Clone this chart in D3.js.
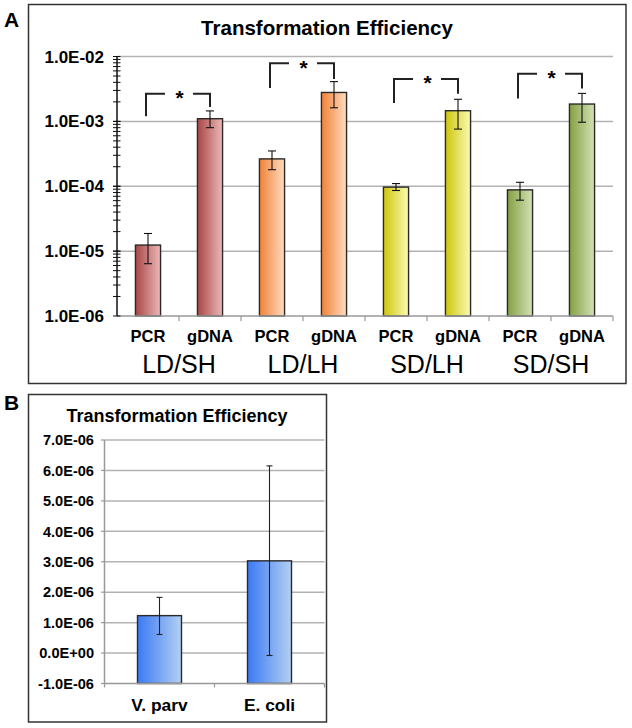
<!DOCTYPE html>
<html>
<head>
<meta charset="utf-8">
<script src="https://cdn.jsdelivr.net/npm/d3@7"></script>
<style>
  html, body { margin: 0; padding: 0; background: #fff; }
  svg { display: block; font-family: "Liberation Sans", Arial, Helvetica, sans-serif; }
</style>
</head>
<body>
<svg id="chart" width="632" height="728"></svg>
<script>
// ---------- Panel A data ----------
const groups = ["LD/SH", "LD/LH", "SD/LH", "SD/SH"];
const types = ["PCR", "gDNA"];
const pcrMean  = [1.24e-5, 2.64e-4, 9.7e-5, 8.8e-5];
const pcrHi    = [1.87e-5, 3.5e-4, 1.1e-4, 1.15e-4];
const pcrLo    = [6.4e-6, 1.8e-4, 8.6e-5, 6.1e-5];
const gdnaMean = [1.10e-3, 2.79e-3, 1.46e-3, 1.85e-3];
const gdnaHi   = [1.45e-3, 4.1e-3, 2.19e-3, 2.7e-3];
const gdnaLo   = [8.0e-4, 1.62e-3, 7.6e-4, 9.7e-4];
// significance brackets (in data units)
const bracketTop      = [2.67e-3, 7.9e-3, 4.5e-3, 5.4e-3];
const bracketLeftEnd  = [1.2e-3, 3.26e-3, 1.92e-3, 2.26e-3];
const bracketRightEnd = [1.67e-3, 4.5e-3, 2.67e-3, 3.2e-3];
const tickLabelsA = ["1.0E-06", "1.0E-05", "1.0E-04", "1.0E-03", "1.0E-02"];
const titleA = "Transformation Efficiency";

// ---------- Panel B data ----------
const organisms = ["V. parv", "E. coli"];
const orgMean = [1.23e-6, 3.03e-6];
const orgHi   = [1.83e-6, 6.15e-6];
const orgLo   = [0.61e-6, -0.08e-6];
const titleB = "Transformation Efficiency";

// ---------- styles ----------
const groupColors = [
  ["#a94646", "#ecb8b8"],
  ["#f08238", "#ffdcc0"],
  ["#cfc50c", "#fbfbb4"],
  ["#84a044", "#d4e2b4"]
];
const blueColors = ["#3a7af4", "#b4d0f2"];

const svg = d3.select("#chart");
const defs = svg.append("defs");
function grad(id, c) {
  const g = defs.append("linearGradient").attr("id", id)
    .attr("x1", "0").attr("x2", "1").attr("y1", "0").attr("y2", "0");
  g.append("stop").attr("offset", "0").attr("stop-color", c[0]);
  g.append("stop").attr("offset", "1").attr("stop-color", c[1]);
}
groupColors.forEach((c, i) => grad("g" + i, c));
grad("gblue", blueColors);

// white background
svg.append("rect").attr("width", 632).attr("height", 728).attr("fill", "#fff");

// ================= Panel A =================
svg.append("rect").attr("x", 28.5).attr("y", 4.5).attr("width", 597.5).attr("height", 379)
  .attr("fill", "none").attr("stroke", "#333").attr("stroke-width", 1.5);
svg.append("text").attr("x", 4).attr("y", 27).attr("font-size", 21).attr("font-weight", "bold").text("A");

const bars = [];
groups.forEach((g, i) => {
  bars.push({ key: g + "-PCR", group: i, type: "PCR", v: pcrMean[i], hi: pcrHi[i], lo: pcrLo[i] });
  bars.push({ key: g + "-gDNA", group: i, type: "gDNA", v: gdnaMean[i], hi: gdnaHi[i], lo: gdnaLo[i] });
});

const xA = d3.scaleBand().domain(bars.map(d => d.key)).range([117, 613]).padding(0);
const yA = d3.scaleLog().domain([1e-6, 1e-2]).range([316, 56.5]);
const bwA = xA.step() * 0.405;

// gridlines
const decades = [1e-6, 1e-5, 1e-4, 1e-3, 1e-2];
svg.append("g").selectAll("line").data(decades.slice(1)).join("line")
  .attr("x1", 117).attr("x2", 613)
  .attr("y1", d => yA(d)).attr("y2", d => yA(d))
  .attr("stroke", "#b3b3b3").attr("stroke-width", 1.5);

// title
svg.append("text").attr("x", 327).attr("y", 35).attr("text-anchor", "middle")
  .attr("font-size", 20.5).attr("font-weight", "bold").text(titleA);

// bars
svg.append("g").selectAll("rect").data(bars).join("rect")
  .attr("x", d => xA(d.key) + (xA.step() - bwA) / 2)
  .attr("width", bwA)
  .attr("y", d => yA(d.v))
  .attr("height", d => yA(1e-6) - yA(d.v))
  .attr("fill", d => "url(#g" + d.group + ")")
  .attr("stroke", "#2a2a2a").attr("stroke-width", 1.4);

// error bars
const errA = svg.append("g").attr("stroke", "#111").attr("stroke-width", 1.1);
bars.forEach(d => {
  const cx = xA(d.key) + xA.step() / 2;
  errA.append("line").attr("x1", cx).attr("x2", cx).attr("y1", yA(d.hi)).attr("y2", yA(d.lo));
  errA.append("line").attr("x1", cx - 4).attr("x2", cx + 4).attr("y1", yA(d.hi)).attr("y2", yA(d.hi));
  errA.append("line").attr("x1", cx - 4).attr("x2", cx + 4).attr("y1", yA(d.lo)).attr("y2", yA(d.lo));
});

// x axis A
const bAxis = svg.append("g");
bAxis.append("line").attr("x1", 117).attr("x2", 613).attr("y1", yA(1e-6)).attr("y2", yA(1e-6))
  .attr("stroke", "#999").attr("stroke-width", 1.5);
const bounds = bars.map(d => xA(d.key)).concat([613]);
bAxis.selectAll("line.t").data(bounds.slice(1)).join("line").attr("class", "t")
  .attr("x1", d => d).attr("x2", d => d).attr("y1", yA(1e-6)).attr("y2", yA(1e-6) + 5)
  .attr("stroke", "#999").attr("stroke-width", 1.2);

// y axis A
const yAx = svg.append("g");
yAx.append("line").attr("x1", 117).attr("x2", 117).attr("y1", yA(1e-2)).attr("y2", yA(1e-6))
  .attr("stroke", "#111").attr("stroke-width", 1.5);
const minor = [];
for (let e = -6; e < -2; e++) for (let m = 1; m <= 10; m++) minor.push(m * Math.pow(10, e));
yAx.selectAll("line.m").data(minor).join("line").attr("class", "m")
  .attr("x1", 113).attr("x2", 120.5)
  .attr("y1", d => yA(d)).attr("y2", d => yA(d))
  .attr("stroke", "#111").attr("stroke-width", 1);
yAx.selectAll("text").data(decades).join("text")
  .attr("x", 104).attr("y", d => yA(d)).attr("dy", "0.36em")
  .attr("text-anchor", "end").attr("font-size", 17).attr("font-weight", "bold")
  .text((d, i) => tickLabelsA[i]);

// x labels A
svg.append("g").selectAll("text").data(bars).join("text")
  .attr("x", d => xA(d.key) + xA.step() / 2).attr("y", 342)
  .attr("text-anchor", "middle").attr("font-size", 16.5).attr("font-weight", "bold")
  .text(d => d.type);
svg.append("g").selectAll("text").data(groups).join("text")
  .attr("x", (d, i) => xA(d + "-PCR") + xA.step()).attr("y", 373)
  .attr("text-anchor", "middle").attr("font-size", 25)
  .text(d => d);

// significance brackets
const br = svg.append("g");
groups.forEach((g, i) => {
  const xl = xA(g + "-PCR") + xA.step() / 2 - 2;
  const xr = xA(g + "-gDNA") + xA.step() / 2;
  const yt = yA(bracketTop[i]);
  const mid = (xl + xr) / 2;
  const path = d3.path();
  path.moveTo(xl, yA(bracketLeftEnd[i])); path.lineTo(xl, yt); path.lineTo(mid - 13, yt);
  path.moveTo(mid + 15, yt); path.lineTo(xr, yt); path.lineTo(xr, yA(bracketRightEnd[i]));
  br.append("path").attr("d", path.toString()).attr("fill", "none")
    .attr("stroke", "#222").attr("stroke-width", 2);
  br.append("text").attr("x", mid + 1.5).attr("y", yt + 11.5).attr("text-anchor", "middle")
    .attr("font-size", 21).attr("font-weight", "bold").text("*");
});

// ================= Panel B =================
svg.append("rect").attr("x", 28.5).attr("y", 394.5).attr("width", 298).attr("height", 327.5)
  .attr("fill", "none").attr("stroke", "#333").attr("stroke-width", 1.5);
svg.append("text").attr("x", 4).attr("y", 410).attr("font-size", 21).attr("font-weight", "bold").text("B");

const xB = d3.scaleBand().domain(organisms).range([104.5, 324.5]).padding(0);
const yB = d3.scaleLinear().domain([-1e-6, 7e-6]).range([683.5, 440]);
const bwB = xB.step() * 0.4;
const ticksB = d3.range(-1, 8).map(k => k * 1e-6);
function sci(v) {
  if (Math.abs(v) < 1e-15) return "0.0E+00";
  const s = v.toExponential(1);
  const [m, e] = s.split("e");
  const n = parseInt(e, 10);
  return m + "E" + (n < 0 ? "-" : "+") + String(Math.abs(n)).padStart(2, "0");
}

svg.append("g").selectAll("line").data(ticksB.slice(1)).join("line")
  .attr("x1", 104.5).attr("x2", 324.5)
  .attr("y1", d => yB(d)).attr("y2", d => yB(d))
  .attr("stroke", "#b3b3b3").attr("stroke-width", 1.5);

svg.append("text").attr("x", 177).attr("y", 422).attr("text-anchor", "middle")
  .attr("font-size", 18).attr("font-weight", "bold").text(titleB);

svg.append("g").selectAll("rect").data(organisms).join("rect")
  .attr("x", d => xB(d) + (xB.step() - bwB) / 2)
  .attr("width", bwB)
  .attr("y", (d, i) => yB(orgMean[i]))
  .attr("height", (d, i) => yB(-1e-6) - yB(orgMean[i]))
  .attr("fill", "url(#gblue)")
  .attr("stroke", "#2a2a2a").attr("stroke-width", 1.4);

const errB = svg.append("g").attr("stroke", "#222").attr("stroke-width", 1.1);
organisms.forEach((d, i) => {
  const cx = xB(d) + xB.step() / 2;
  errB.append("line").attr("x1", cx).attr("x2", cx).attr("y1", yB(orgHi[i])).attr("y2", yB(orgLo[i]));
  errB.append("line").attr("x1", cx - 3).attr("x2", cx + 3).attr("y1", yB(orgHi[i])).attr("y2", yB(orgHi[i]));
  errB.append("line").attr("x1", cx - 3).attr("x2", cx + 3).attr("y1", yB(orgLo[i])).attr("y2", yB(orgLo[i]));
});

// axes B
const axB = svg.append("g");
axB.append("line").attr("x1", 104.5).attr("x2", 104.5).attr("y1", yB(7e-6)).attr("y2", yB(-1e-6))
  .attr("stroke", "#999").attr("stroke-width", 1.5);
axB.selectAll("line.t").data(ticksB).join("line").attr("class", "t")
  .attr("x1", 101).attr("x2", 104.5).attr("y1", d => yB(d)).attr("y2", d => yB(d))
  .attr("stroke", "#999").attr("stroke-width", 1.2);
axB.append("line").attr("x1", 104.5).attr("x2", 324.5).attr("y1", yB(-1e-6)).attr("y2", yB(-1e-6))
  .attr("stroke", "#999").attr("stroke-width", 1.5);
axB.selectAll("line.x").data([104.5, 214.5, 324.5]).join("line").attr("class", "x")
  .attr("x1", d => d).attr("x2", d => d).attr("y1", yB(-1e-6)).attr("y2", yB(-1e-6) + 4)
  .attr("stroke", "#999").attr("stroke-width", 1.2);
axB.selectAll("text").data(ticksB).join("text")
  .attr("x", 94).attr("y", d => yB(d)).attr("dy", "0.36em")
  .attr("text-anchor", "end").attr("font-size", 14.6).attr("font-weight", "bold")
  .text(d => sci(d));

svg.append("g").selectAll("text").data(organisms).join("text")
  .attr("x", d => xB(d) + xB.step() / 2).attr("y", 711)
  .attr("text-anchor", "middle").attr("font-size", 17.4).attr("font-weight", "bold")
  .text(d => d);
</script>
</body>
</html>
